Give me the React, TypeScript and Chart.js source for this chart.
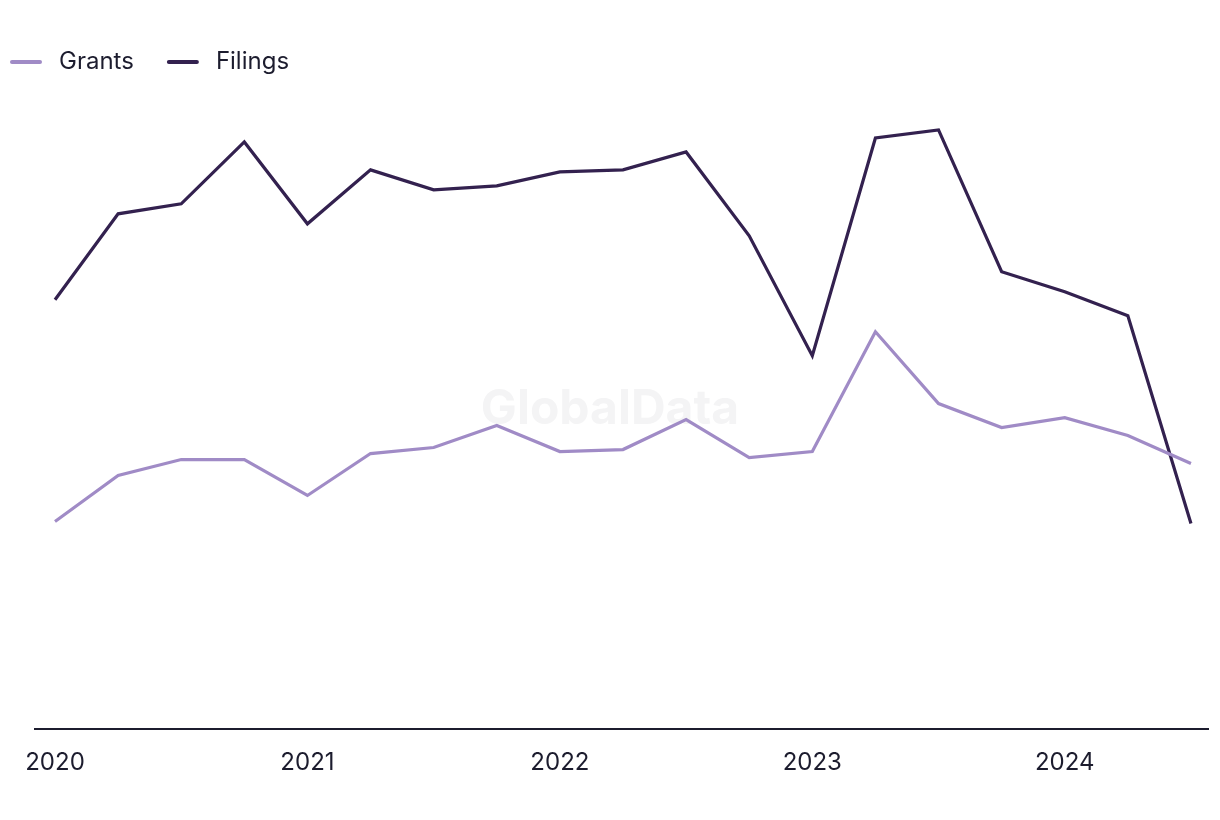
import React, { useEffect, useRef } from "react";
import { Chart, registerables } from "chart.js";

Chart.register(...registerables);

const quarters = [
  "2020 Q1", "2020 Q2", "2020 Q3", "2020 Q4",
  "2021 Q1", "2021 Q2", "2021 Q3", "2021 Q4",
  "2022 Q1", "2022 Q2", "2022 Q3", "2022 Q4",
  "2023 Q1", "2023 Q2", "2023 Q3", "2023 Q4",
  "2024 Q1", "2024 Q2", "2024 Q3",
];
const yearLabels = ["2020", "2021", "2022", "2023", "2024"];
const grants = [104, 127, 135, 135, 117, 138, 141, 152, 139, 140, 155, 136, 139, 199, 163, 151, 156, 147, 133];
const filings = [215, 258, 263, 294, 253, 280, 270, 272, 279, 280, 289, 247, 187, 296, 300, 229, 219, 207, 103];

const GRANTS_COLOR = "#a08bc6";
const FILINGS_COLOR = "#33214f";
const TEXT_COLOR = "#1c1c2e";
const FONT = "Inter, 'Noto Sans', sans-serif";

const watermarkPlugin = {
  id: "watermark",
  beforeDatasetsDraw(chart: any) {
    const { ctx } = chart;
    ctx.save();
    ctx.font = `bold 48px ${FONT}`;
    ctx.fillStyle = "#f4f4f5";
    ctx.textAlign = "center";
    ctx.textBaseline = "middle";
    ctx.fillText("GlobalData", chart.width / 2, chart.height / 2);
    ctx.restore();
  },
};

const legendPlugin = {
  id: "customLegend",
  afterDraw(chart: any) {
    const { ctx } = chart;
    ctx.save();
    ctx.font = `24px ${FONT}`;
    ctx.textBaseline = "middle";
    ctx.textAlign = "left";
    let x = 10;
    const y = 62;
    chart.data.datasets.forEach((ds: any) => {
      ctx.fillStyle = ds.borderColor;
      ctx.beginPath();
      (ctx as any).roundRect(x, y - 2, 32, 4, 2);
      ctx.fill();
      ctx.fillStyle = TEXT_COLOR;
      const tx = x + 49;
      ctx.fillText(ds.label, tx, y);
      x = tx + ctx.measureText(ds.label).width + 33;
    });
    ctx.restore();
  },
};

export default function App() {
  const canvasRef = useRef<HTMLCanvasElement | null>(null);

  useEffect(() => {
    if (!canvasRef.current) return;
    const chart = new Chart(canvasRef.current, {
      type: "line",
      data: {
        datasets: [
          {
            label: "Grants",
            data: grants.map((v, i) => ({ x: i, y: v })),
            borderColor: GRANTS_COLOR,
            backgroundColor: GRANTS_COLOR,
            borderWidth: 3.2,
            pointRadius: 0,
            tension: 0,
          },
          {
            label: "Filings",
            data: filings.map((v, i) => ({ x: i, y: v })),
            borderColor: FILINGS_COLOR,
            backgroundColor: FILINGS_COLOR,
            borderWidth: 3.2,
            pointRadius: 0,
            tension: 0,
          },
        ],
      },
      options: {
        animation: false,
        responsive: false,
        devicePixelRatio: 1,
        layout: { padding: { top: 84, right: 12, bottom: 24, left: 0 } },
        plugins: {
          legend: { display: false },
          tooltip: { enabled: false },
        },
        scales: {
          x: {
            type: "linear",
            min: -0.317,
            max: quarters.length - 1 + 0.27,
            grid: { display: false, drawTicks: false },
            border: { display: true, color: TEXT_COLOR, width: 2 },
            afterBuildTicks: (axis: any) => {
              axis.ticks = yearLabels.map((_, i) => ({ value: i * 4 }));
            },
            ticks: {
              padding: 19,
              color: TEXT_COLOR,
              font: { family: FONT, size: 24 },
              maxRotation: 0,
              autoSkip: false,
              callback: (value: any) => yearLabels[Math.round(Number(value) / 4)] ?? "",
            },
          },
          y: {
            min: 0,
            max: 323,
            display: true,
            grid: { display: false, drawTicks: false },
            border: { display: false },
            ticks: { display: false },
            afterFit: (scale: any) => {
              scale.width = 35;
            },
          },
        },
      },
      plugins: [watermarkPlugin, legendPlugin],
    });
    return () => chart.destroy();
  }, []);

  return (
    <div style={{ position: "fixed", left: 0, top: 0, width: 1220, height: 820, background: "#fff" }}>
      <canvas ref={canvasRef} width={1220} height={820} style={{ display: "block" }} />
    </div>
  );
}
